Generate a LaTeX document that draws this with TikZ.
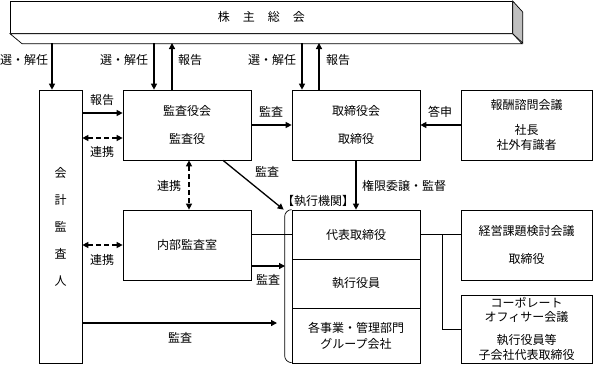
\documentclass[tikz,border=0pt]{standalone}
\usepackage{fontspec}
\setmainfont{Noto Sans CJK JP}
\usetikzlibrary{arrows.meta}
\begin{document}
\begin{tikzpicture}[x=1pt,y=-1pt,
  font=\fontsize{12}{14}\selectfont,
  box/.style={draw, line width=0.7pt, align=center, inner sep=0pt},
  arr/.style={line width=1.3pt, -{Triangle[length=6pt,width=6pt]}},
  darr/.style={line width=1.3pt, dash pattern=on 5pt off 3pt, {Triangle[length=6pt,width=6pt]}-{Triangle[length=6pt,width=6pt]}},
  ln/.style={line width=1.3pt},
  lbl/.style={inner sep=0pt}]
\useasboundingbox (0,0) rectangle (599,364);
% top bar
\node[box, minimum width=502pt, minimum height=32pt, anchor=north west] (sh) at (10,1)
  {株\hspace{13pt}主\hspace{13pt}総\hspace{13pt}会};
\draw[line width=0.7pt, fill=white] (sh.south west) -- ++(12,10) -- ++(500,0) -- (sh.south east) -- cycle;
\draw[line width=0.7pt, fill=gray!50] (sh.north east) -- ++(10,11) -- ++(0,31) -- (sh.south east) -- cycle;
\coordinate (shb) at (0,43);
% boxes
\node[box, minimum width=43pt, minimum height=273pt, font=\fontsize{12}{27}\selectfont] (kaikei) at (60.5,226.5) {会\\計\\監\\査\\人};
\node[box, minimum width=128pt, minimum height=70pt, font=\fontsize{12}{28}\selectfont] (kansa) at (187,125) {監査役会\\監査役};
\node[box, minimum width=128pt, minimum height=70pt, font=\fontsize{12}{28}\selectfont] (tori) at (356,125) {取締役会\\取締役};
\node[box, minimum width=131pt, minimum height=70pt, font=\fontsize{12}{15}\selectfont] (hoshu) at (526.5,125) {報酬諮問会議\\[10pt]社長\\社外有識者};
\node[box, minimum width=128pt, minimum height=70pt] (naibu) at (187,245) {内部監査室};
\node[box, minimum width=128pt, minimum height=49pt] (daihyo) at (356,234.5) {代表取締役};
\node[box, minimum width=128pt, minimum height=49pt] (shikko) at (356,283.5) {執行役員};
\node[box, minimum width=128pt, minimum height=55pt, font=\fontsize{12}{16}\selectfont] (kaku) at (356,335.5) {各事業・管理部門\\グループ会社};
\node[box, minimum width=131pt, minimum height=70pt, font=\fontsize{12}{28}\selectfont] (keiei) at (526.5,245) {経営課題検討会議\\取締役};
\node[box, minimum width=131pt, minimum height=68pt, font=\fontsize{12}{15}\selectfont] (corp) at (526.5,329) {\raisebox{2pt}{\shortstack{コーポレート\\[1pt]オフィサー会議}}\\[6pt]執行役員等\\子会社代表取締役};
% bracket of execution group
\draw[line width=0.7pt, rounded corners=7pt] (daihyo.north west) -- ++(-7,0) -- ++(0,153) -- ++(7,0);
\coordinate (brk) at (285,0);
\node[lbl] (kikan) at (318,201) {【執行機関】};
% arrows from shareholders meeting
\draw[arr] ([xshift=-8.5pt]kaikei.north |- shb) -- ([xshift=-8.5pt]kaikei.north);
\draw[arr] ([xshift=-33pt]kansa.north |- shb) -- ([xshift=-33pt]kansa.north);
\draw[arr] ([xshift=-15pt]kansa.north) -- ([xshift=-15pt]kansa.north |- shb);
\draw[arr] ([xshift=-54pt]tori.north |- shb) -- ([xshift=-54pt]tori.north);
\draw[arr] ([xshift=-37pt]tori.north) -- ([xshift=-37pt]tori.north |- shb);
\node[lbl] (l1) at (24,60) {選・解任};
\node[lbl] (l2) at (124,60) {選・解任};
\node[lbl] (l3) at (190,60) {報告};
\node[lbl] (l4) at (272,60) {選・解任};
\node[lbl] (l5) at (338,60) {報告};
% left side connectors
\draw[arr] (kaikei.east |- 0,113) -- (kansa.west |- 0,113);
\node[lbl] (l6) at (102,100) {報告};
\draw[darr] (kaikei.east |- 0,138) -- (kansa.west |- 0,138);
\node[lbl] (l7) at (102,152) {連携};
\draw[darr] (kaikei.east |- naibu.west) -- (naibu.west);
\node[lbl] (l8) at (102,260) {連携};
\coordinate (kend) at (277,323);
\draw[arr] (kaikei.east |- kend) -- (kend);
\node[lbl] (l9) at (180,338) {監査};
% kansa / tori
\draw[arr] (kansa.east) -- (tori.west);
\node[lbl] (l10) at (271,112) {監査};
\draw[arr] (hoshu.west) -- (tori.east);
\node[lbl] (l11) at (440,112) {答申};
\draw[arr] ([xshift=36pt]kansa.south) -- ([xshift=-8pt]daihyo.north west);
\node[lbl] (l12) at (267,172) {監査};
\draw[darr] ([xshift=2pt]kansa.south) -- ([xshift=2pt]naibu.north);
\node[lbl] (l13) at (169,186) {連携};
\draw[arr] (tori.south) -- (daihyo.north);
\node[lbl, anchor=west] (l14) at (362,186) {権限委譲・監督};
% naibu
\draw[line width=1pt] (naibu.east |- daihyo.west) -- (daihyo.west);
\draw[arr] ([yshift=-21pt]naibu.east) -- (brk |- 0,266);
\node[lbl] (l15) at (268,280) {監査};
% right side
\coordinate (br) at (442,0);
\draw[line width=1pt] (daihyo.east) -- (keiei.west |- daihyo.east);
\draw[line width=1pt] (br |- daihyo.east) |- (corp.west);
\end{tikzpicture}
\end{document}
